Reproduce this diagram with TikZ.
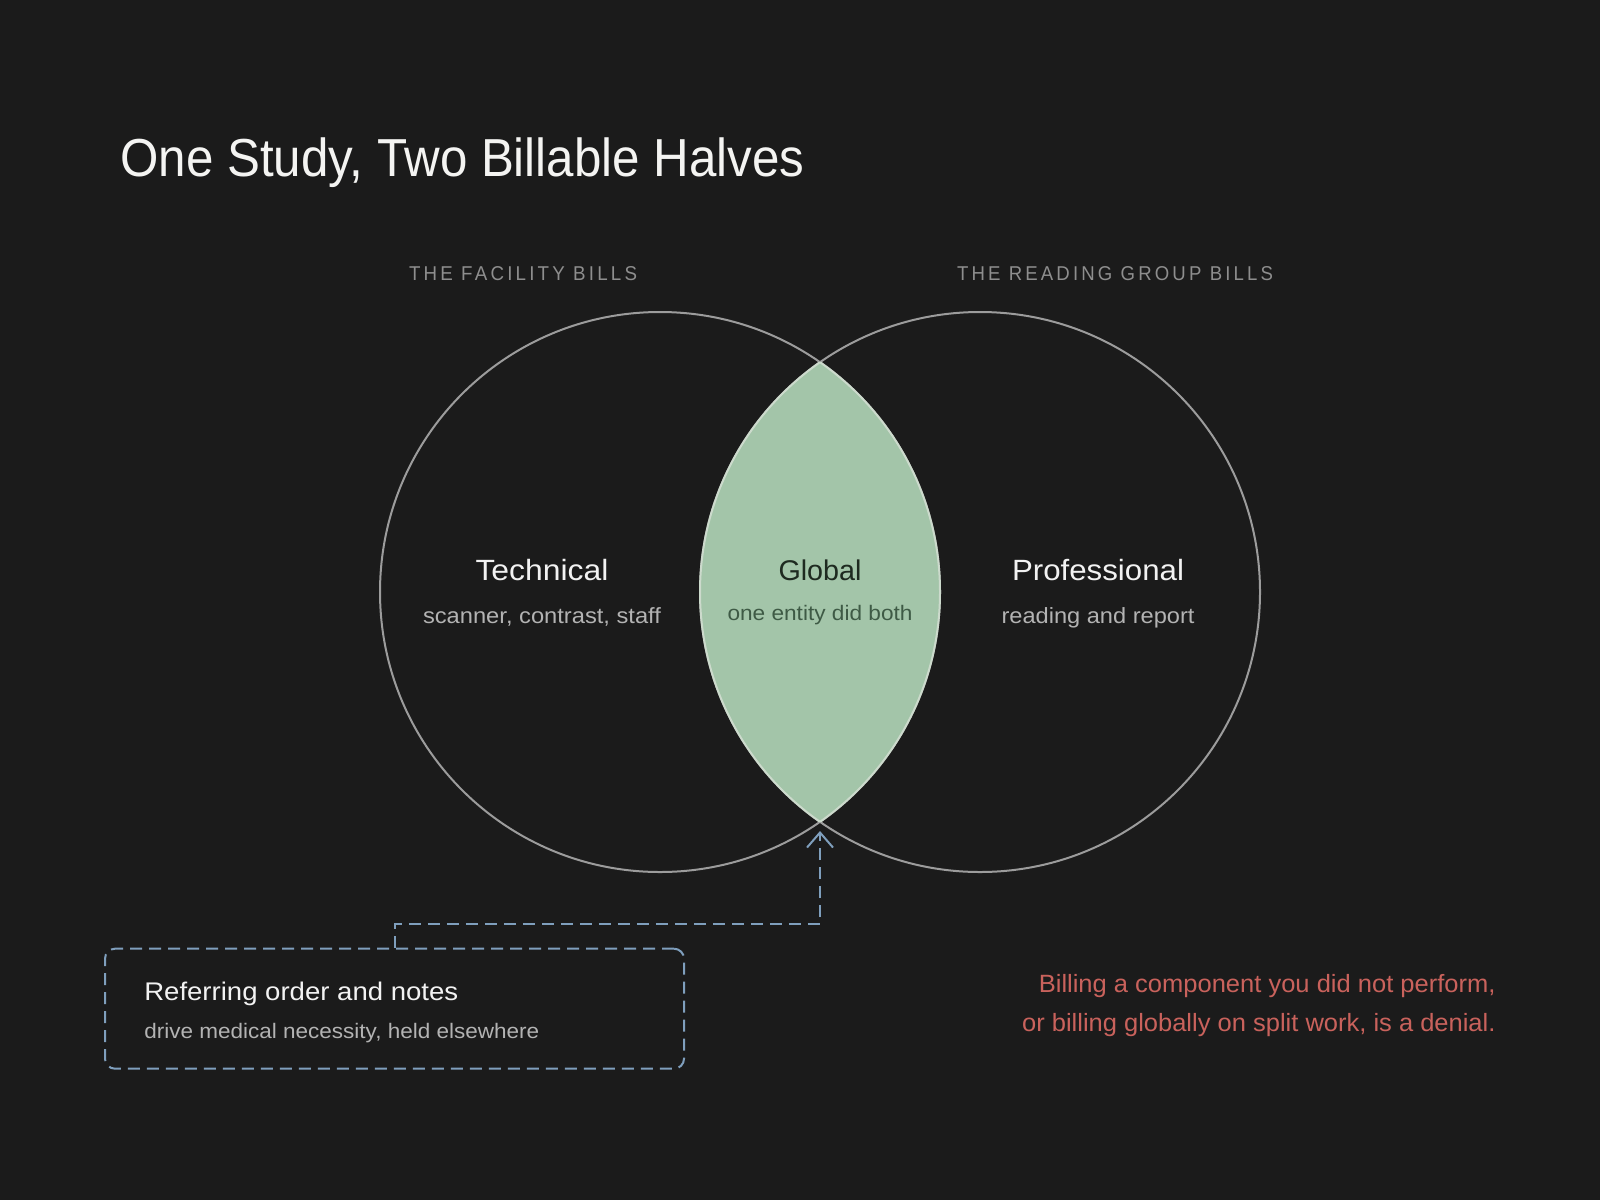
\documentclass[tikz,border=0pt]{standalone}
\usepackage{fontspec}
\setmainfont{Liberation Sans}
\newfontfamily\trackedfont{Liberation Sans}[LetterSpace=17]
\usepackage{graphicx}
\usetikzlibrary{arrows.meta}
\definecolor{bg}{HTML}{1B1B1B}
\definecolor{titlec}{HTML}{F4F4F2}
\definecolor{labelc}{HTML}{8E8E8E}
\definecolor{circc}{HTML}{9C9C9C}
\definecolor{lensc}{HTML}{A3C5A9}
\definecolor{lensedge}{HTML}{CCDACC}
\definecolor{headc}{HTML}{F2F2F2}
\definecolor{subc}{HTML}{B3B3B3}
\definecolor{globc}{HTML}{1E2A20}
\definecolor{globsubc}{HTML}{3E5A45}
\definecolor{connc}{HTML}{7F9FBD}
\definecolor{redc}{HTML}{C9625C}
\newlength\fitlen
\newcommand\fitt[3]{\settowidth\fitlen{\fontsize{#1}{#1}\selectfont #3}%
  \pgfmathsetmacro\fitfac{#2/\fitlen}%
  \scalebox{\fitfac}[1]{\fontsize{#1}{#1}\selectfont #3}}
\tikzset{
  txt/.style={inner sep=0pt, outer sep=0pt},
  venn/.style={circle, draw=circc, line width=2pt, minimum size=560pt, inner sep=0pt},
  notebox/.style={draw=connc, line width=2pt, dash pattern=on 12pt off 7pt, rounded corners=10pt,
    minimum width=579pt, minimum height=120pt, inner sep=0pt, anchor=north west},
  conn/.style={draw=connc, line width=2pt, dash pattern=on 12pt off 7pt,
    -{Straight Barb[length=15pt,width=26pt,line width=2pt]}},
}
\begin{document}
\begin{tikzpicture}[x=1pt,y=-1pt]
\useasboundingbox (0,0) rectangle (1600,1200);
\fill[bg] (0,0) rectangle (1600,1200);

% title
\node[txt, anchor=base west, text=titlec] (title) at (120.4,176) {\fitt{53.5}{684}{One Study, Two Billable Halves}};

% labels
\node[txt, anchor=base, text=labelc] (lblL) at (523,280) {\fitt{20}{228}{\trackedfont THE FACILITY BILLS}};
\node[txt, anchor=base, text=labelc] (lblR) at (1115,280) {\fitt{20}{316}{\trackedfont THE READING GROUP BILLS}};

% circles
\node[venn] (left) at (660,592) {};
\node[venn] (right) at (980,592) {};
\begin{scope}
  \clip (660,592) circle [radius=280];
  \fill[lensc] (980,592) circle [radius=280];
  \draw[lensedge, line width=2pt] (980,592) circle [radius=280];
\end{scope}
\begin{scope}
  \clip (980,592) circle [radius=280];
  \draw[lensedge, line width=2pt] (660,592) circle [radius=280];
\end{scope}

% circle texts
\node[txt, anchor=base, text=headc] (tech) at (542,580) {\fitt{29.3}{133}{Technical}};
\node[txt, anchor=base, text=subc] (techsub) at (542,623) {\fitt{22}{238}{scanner, contrast, staff}};
\node[txt, anchor=base, text=globc] (glob) at (820,580) {\fitt{28.5}{83}{Global}};
\node[txt, anchor=base, text=globsubc] (globsub) at (820,620) {\fitt{21}{185}{one entity did both}};
\node[txt, anchor=base, text=headc] (prof) at (1098,580) {\fitt{29.3}{172}{Professional}};
\node[txt, anchor=base, text=subc] (profsub) at (1098,623) {\fitt{22}{193}{reading and report}};

% note box
\node[notebox] (box) at (104,947.7) {};
\node[txt, anchor=base west, text=headc] (boxhead) at (144.3,1000) {\fitt{25.5}{314}{Referring order and notes}};
\node[txt, anchor=base west, text=subc] (boxsub) at (144.3,1038) {\fitt{21}{395}{drive medical necessity, held elsewhere}};

% connector
\coordinate (bend) at (820,924);
\coordinate (tip) at (820,831);
\draw[conn] (box.north) |- (bend) -- (tip);

% red warning
\node[txt, anchor=base east, text=redc] (warn1) at (1495.5,992.7) {\fitt{25}{456.7}{Billing a component you did not perform,}};
\node[txt, anchor=base east, text=redc] (warn2) at (1495.5,1031.7) {\fitt{25}{473.4}{or billing globally on split work, is a denial.}};
\end{tikzpicture}
\end{document}
